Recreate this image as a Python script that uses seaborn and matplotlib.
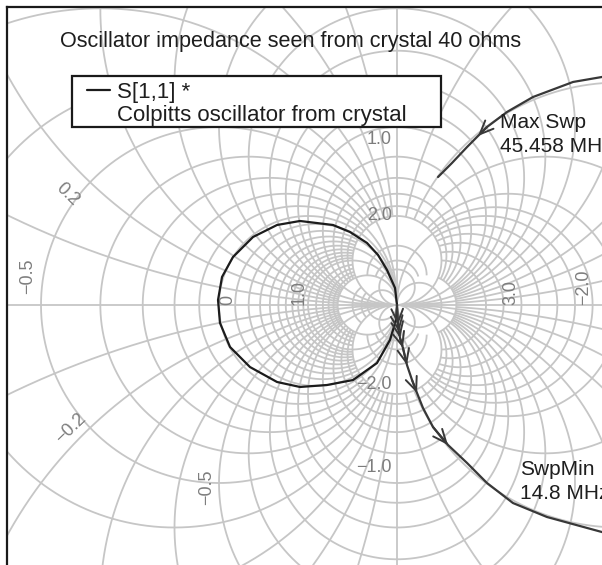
import numpy as np
import matplotlib
matplotlib.use("Agg")
import matplotlib.pyplot as plt
import seaborn as sns
import pandas as pd
from matplotlib.lines import Line2D
from matplotlib.patches import Rectangle

# ---------------- data ----------------
title = "Oscillator impedance seen from crystal 40 ohms"
trace_name = "S[1,1] *"
trace_desc = "Colpitts oscillator from crystal"
max_label = ["Max Swp", "45.458 MHz"]
min_label = ["SwpMin", "14.8 MHz"]

loop_re = [1.000, 0.978, 0.888, 0.787, 0.663, 0.472, 0.281, -0.090, -0.348, -0.618,
           -0.843, -0.966, -1.011, -0.989, -0.876, -0.652, -0.348, -0.090, 0.213,
           0.506, 0.775, 0.921, 0.989, 1.000]
loop_im = [0.000, 0.191, 0.393, 0.562, 0.697, 0.820, 0.899, 0.944, 0.899, 0.764,
           0.539, 0.315, 0.056, -0.202, -0.472, -0.697, -0.865, -0.921, -0.899,
           -0.843, -0.652, -0.393, -0.169, 0.000]
tail_re = [1.000, 1.011, 1.022, 1.034, 1.067, 1.112, 1.169, 1.225, 1.292, 1.404,
           1.573, 1.787, 2.011, 2.303, 2.685, 3.303, 3.843]
tail_im = [0.000, -0.225, -0.303, -0.371, -0.483, -0.674, -0.843, -0.989, -1.157,
           -1.371, -1.573, -1.775, -2.000, -2.225, -2.382, -2.551, -2.697]
tail_arrows = [1, 2, 3, 4, 5, 7, 10]
upper_re = [3.843, 3.303, 2.978, 2.528, 2.236, 2.011, 1.910, 1.787, 1.618, 1.461]
upper_im = [2.640, 2.562, 2.506, 2.337, 2.169, 2.000, 1.899, 1.775, 1.596, 1.438]
upper_arrows = [6]

# Smith grid values (normalised resistance / reactance)
r_major = [0.0, 0.2, 0.5, 1.0, 2.0, 5.0, -0.2, -0.5, -2.0, -5.0]
r_minor = [0.1, 0.3, 0.4, 0.6, 0.7, 0.8, 0.9, 1.2, 1.4, 1.6, 1.8, 3.0, 4.0,
           -0.1, -0.3, -0.4, -0.6, -0.7, -0.8, -0.9, -1.2, -1.4, -1.6, -1.8,
           -1.91, -2.11, -2.25, -2.43, -2.67, -3.0, -4.0]
x_major = [0.2, 0.5, 1.0, 2.0, 5.0, -0.2, -0.5, -1.0, -2.0, -5.0]
x_minor = [0.1, 0.3, 0.4, 0.6, 0.7, 0.8, 0.9, 1.2, 1.4, 1.6, 1.8, 3.0, 4.0,
           -0.1, -0.3, -0.4, -0.6, -0.7, -0.8, -0.9, -1.2, -1.4, -1.6, -1.8, -3.0, -4.0]
r_minor_xlim = 2.0            # minor resistance circles stop at |x| = 2
x_minor_rlim = (-4.0, 2.0)    # minor reactance circles span this resistance range

# grid labels: text, anchor (Gamma re, im), rotation, ha, va
grid_labels = [
    ("0", (-1.0, 0.0), 90, "left", "bottom"),
    ("1.0", (0.0, 0.0), 90, "right", "bottom"),
    ("3.0", (2.18, 0.0), 90, "left", "bottom"),
    ("\u22122.0", (3.0, 0.0), 90, "left", "bottom"),
    ("\u22120.5", (-3.146, 0.326), 90, "center", "center"),
    ("0.2", (-2.7, 1.24), -44, "center", "center"),
    ("\u22120.2", (-2.66, -1.39), 44, "center", "center"),
    ("\u22120.5", (-1.135, -2.045), 90, "center", "center"),
    ("\u22121.0", (0.944, -1.831), 0, "right", "center"),
    ("\u22122.0", (0.944, -0.893), 0, "right", "center"),
    ("2.0", (0.944, 1.011), 0, "right", "center"),
    ("1.0", (0.944, 1.86), 0, "right", "center"),
]

# ---------------- figure ----------------
W, H = 602, 565
sns.set_style("white")
plt.rcParams["font.family"] = ["Liberation Sans", "DejaVu Sans"]
fig = plt.figure(figsize=(W / 100, H / 100), dpi=100)

S = 89.0               # pixels per unit of Gamma
PX, PY = 397.0, 305.0  # pixel position of Gamma = 1
x0, x1, yt, yb = 7.0, 720.0, 7.0, 620.0
ax = fig.add_axes([x0 / W, 1 - yb / H, (x1 - x0) / W, (yb - yt) / H])
ax.set_xlim(1 + (x0 - PX) / S, 1 + (x1 - PX) / S)
ax.set_ylim((PY - yb) / S, (PY - yt) / S)
ax.set_xticks([]); ax.set_yticks([])
for sp in ax.spines.values():
    sp.set_linewidth(1.6)
    sp.set_color("#1a1a1a")

grid_col = "#c6c6c6"
glw = 1.3
phi = np.linspace(0, 2 * np.pi, 8000)


def draw_circle(cx, cy, rad, keep):
    g = (cx + rad * np.cos(phi)) + 1j * (cy + rad * np.sin(phi))
    with np.errstate(divide="ignore", invalid="ignore"):
        z = (1 + g) / (1 - g)
    gr, gi = g.real.copy(), g.imag.copy()
    if keep is not None:
        bad = ~keep(z)
        gr[bad] = np.nan
        gi[bad] = np.nan
    ax.plot(gr, gi, color=grid_col, lw=glw, zorder=1, solid_capstyle="butt")


for r in r_major + r_minor:
    keep = None if r in r_major else (lambda z: np.abs(z.imag) <= r_minor_xlim)
    draw_circle(r / (1 + r), 0.0, 1 / abs(1 + r), keep)
for xv in x_major + x_minor:
    keep = None if xv in x_major else (
        lambda z: (z.real >= x_minor_rlim[0]) & (z.real <= x_minor_rlim[1]))
    draw_circle(1.0, 1 / xv, 1 / abs(xv), keep)
ax.axhline(0, color=grid_col, lw=glw, zorder=1)
ax.axvline(1, color=grid_col, lw=glw, zorder=1)

lab_col = "#7d7d7d"
for txt, (gx, gy), rot, ha, va in grid_labels:
    ax.text(gx, gy, txt, rotation=rot, ha=ha, va=va, color=lab_col, fontsize=13,
            rotation_mode="anchor" if rot not in (0, 90) else "default", zorder=2)

# ---------------- traces ----------------
loop_df = pd.DataFrame({"re": loop_re, "im": loop_im})
tail_df = pd.DataFrame({"re": tail_re, "im": tail_im})
upper_df = pd.DataFrame({"re": upper_re, "im": upper_im})
sns.lineplot(data=loop_df, x="re", y="im", sort=False, estimator=None, color="#1c1c1c",
             lw=1.6, ax=ax, zorder=3)
sns.lineplot(data=tail_df, x="re", y="im", sort=False, estimator=None, color="#383838",
             lw=1.6, ax=ax, zorder=3)
sns.lineplot(data=upper_df, x="re", y="im", sort=False, estimator=None, color="#383838",
             lw=1.6, ax=ax, zorder=3)
for df, idxs in ((tail_df, tail_arrows), (upper_df, upper_arrows)):
    for i in idxs:
        ax.annotate("", xy=(df.re[i], df.im[i]), xytext=(df.re[i - 1], df.im[i - 1]),
                    arrowprops=dict(arrowstyle="->,head_length=0.7,head_width=0.3",
                                    color="#383838", lw=1.4, shrinkA=0, shrinkB=0,
                                    mutation_scale=14), zorder=3)
ax.set_xlabel(""); ax.set_ylabel("")


def fx(p):
    return p / W


def fy(p):
    return 1 - p / H


txt_col = "#1e1e1e"
fig.text(fx(60), fy(47), title, fontsize=15.6, color=txt_col, va="baseline", ha="left")

# legend box
fs_leg = 16.0
fig.patches.append(Rectangle((fx(72), fy(127)), fx(441) - fx(72), fy(76) - fy(127),
                             transform=fig.transFigure, facecolor="white",
                             edgecolor="#1a1a1a", lw=1.6, zorder=5))
fig.lines.append(Line2D([fx(87), fx(110)], [fy(90), fy(90)], transform=fig.transFigure,
                        color="#1c1c1c", lw=1.6, zorder=6))
fig.text(fx(117), fy(98), trace_name, fontsize=fs_leg, color=txt_col, va="baseline", zorder=6)
fig.text(fx(117), fy(121), trace_desc, fontsize=fs_leg, color=txt_col, va="baseline", zorder=6)

fs2 = 15
fig.text(fx(500), fy(128), max_label[0], fontsize=fs2, color=txt_col, va="baseline")
fig.text(fx(500), fy(152), max_label[1], fontsize=fs2, color=txt_col, va="baseline")
fig.text(fx(520), fy(475), min_label[0], fontsize=fs2, color=txt_col, va="baseline")
fig.text(fx(520), fy(499), min_label[1], fontsize=fs2, color=txt_col, va="baseline")

fig.savefig("out.png", dpi=100)
